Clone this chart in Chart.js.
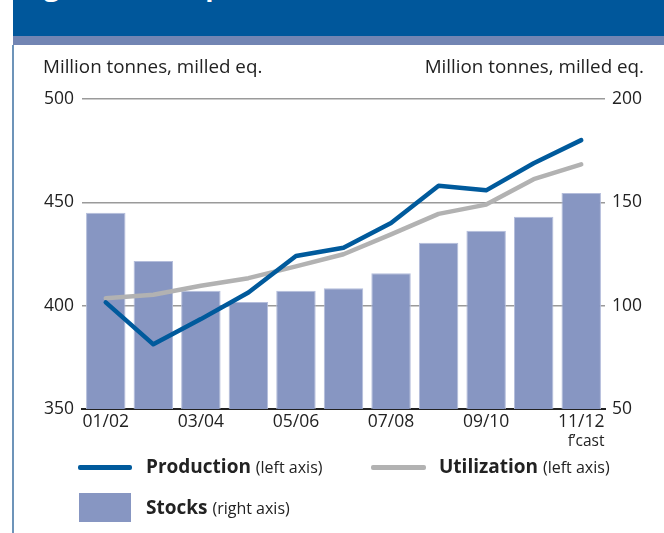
<!DOCTYPE html>
<html>
<head>
<meta charset="utf-8">
<script src="https://cdn.jsdelivr.net/npm/chart.js@4/dist/chart.umd.min.js"></script>
<style>
  html, body { margin: 0; padding: 0; background: #fff; }
  body { width: 664px; height: 533px; position: relative; overflow: hidden; font-family: "Open Sans", "DejaVu Sans", sans-serif; color: #222; }
  #banner { position: absolute; left: 13px; top: 0; width: 651px; height: 36px; background: #00579b; overflow: hidden; }
  #banner span { position: absolute; left: 8px; top: -27px; line-height: 26px; font-size: 27px; font-weight: bold; color: #fff; white-space: nowrap; }
  #strip { position: absolute; left: 13px; top: 36px; width: 651px; height: 9px; background: #7285b3; }
  #leftborder { position: absolute; left: 12px; top: 45px; width: 2px; height: 488px; background: #6d94b9; }
  #chartwrap { position: absolute; left: 0; top: 0; width: 664px; height: 533px; }
  .unit { position: absolute; top: 55px; font-size: 18.8px; line-height: 22px; white-space: nowrap; }
  .leg { position: absolute; white-space: nowrap; font-size: 19px; line-height: 24px; }
  .leg b { font-weight: bold; }
  .leg small { font-size: 16px; }
  .swline { position: absolute; height: 5px; border-radius: 2px; }
  .swrect { position: absolute; }
</style>
</head>
<body>
<div id="banner"><span>Figure 3: Rice production, utilization and stocks</span></div>
<div id="strip"></div>
<div id="leftborder"></div>
<div id="chartwrap"><canvas id="c" width="664" height="533"></canvas></div>
<div class="unit" style="left:43px;">Million tonnes, milled eq.</div>
<div class="unit" style="right:20px;">Million tonnes, milled eq.</div>

<div class="swline" style="left:78px; top:465px; width:54px; background:#005a9c;"></div>
<div class="leg" style="left:146px; top:454px;"><b>Production</b> <small>(left axis)</small></div>
<div class="swline" style="left:371px; top:465px; width:55px; background:#b2b2b2;"></div>
<div class="leg" style="left:439px; top:454px;"><b>Utilization</b> <small>(left axis)</small></div>
<div class="swrect" style="left:79px; top:493px; width:52px; height:29px; background:#8796c2;"></div>
<div class="leg" style="left:146px; top:495px;"><b>Stocks</b> <small>(right axis)</small></div>

<script>
const categories = ['01/02','02/03','03/04','04/05','05/06','06/07','07/08','08/09','09/10','10/11','11/12'];
const production = [401.6, 381.3, 393.5, 406.4, 424.0, 428.0, 440.0, 458.0, 455.8, 468.9, 480.1];
const utilization = [403.6, 405.3, 409.6, 413.3, 419.0, 424.9, 434.5, 444.4, 448.9, 461.2, 468.4];
const stocks = [144.9, 121.6, 107.2, 101.8, 107.2, 108.4, 115.7, 130.5, 136.3, 143.0, 154.5];
const leftTicks = [350, 400, 450, 500];
const rightTicks = [50, 100, 150, 200];
const forecastNote = 'f\u2019cast';

const FONT = '"Open Sans", "DejaVu Sans", sans-serif';
const TICK_SIZE = 17.5;

const fcastPlugin = {
  id: 'fcast',
  afterDraw(chart) {
    const x = chart.scales.x;
    const ctx = chart.ctx;
    const last = categories.length - 1;
    const px = x.getPixelForValue(last);
    ctx.save();
    ctx.font = TICK_SIZE + 'px ' + FONT;
    const w = ctx.measureText(categories[last]).width;
    ctx.font = '15.5px ' + FONT;
    ctx.fillStyle = '#222';
    ctx.textAlign = 'right';
    ctx.textBaseline = 'alphabetic';
    ctx.fillText(forecastNote, px + w / 2, x.top + 37);
    ctx.restore();
  }
};

new Chart(document.getElementById('c'), {
  data: {
    labels: categories,
    datasets: [
      {
        type: 'line', label: 'Production', data: production, yAxisID: 'y',
        borderColor: '#005a9c', borderWidth: 4.5, pointRadius: 0, tension: 0, order: 1,
        borderJoinStyle: 'round', borderCapStyle: 'round'
      },
      {
        type: 'line', label: 'Utilization', data: utilization, yAxisID: 'y',
        borderColor: '#b2b2b2', borderWidth: 4.5, pointRadius: 0, tension: 0, order: 2,
        borderJoinStyle: 'round', borderCapStyle: 'round'
      },
      {
        type: 'bar', label: 'Stocks', data: stocks, yAxisID: 'y2',
        backgroundColor: '#8796c2', borderColor: '#b4bddb', borderWidth: 1,
        categoryPercentage: 1, barPercentage: 0.83, order: 3
      }
    ]
  },
  options: {
    responsive: false,
    animation: false,
    devicePixelRatio: 1,
    layout: { padding: { top: 99, bottom: 94, left: 0, right: 0 } },
    plugins: { legend: { display: false }, tooltip: { enabled: false } },
    scales: {
      x: {
        offset: true,
        z: 1,
        grid: { display: false, drawTicks: false },
        border: { display: true, color: '#222', width: 2 },
        ticks: {
          autoSkip: false, maxRotation: 0, padding: 3, color: '#222',
          font: { family: FONT, size: TICK_SIZE },
          callback: (v, i) => (i % 2 === 0 ? categories[i] : '')
        },
        afterFit: (s) => { s.height = 30; }
      },
      y: {
        position: 'left',
        min: leftTicks[0], max: leftTicks[leftTicks.length - 1],
        afterBuildTicks: (s) => { s.ticks = leftTicks.map(v => ({ value: v })); },
        grid: { color: (c) => (c.tick && c.tick.value === leftTicks[0] ? 'rgba(0,0,0,0)' : '#9a9a9a'), lineWidth: 1.5, drawTicks: false },
        border: { display: false },
        ticks: { padding: 8, color: '#222', font: { family: FONT, size: TICK_SIZE } },
        afterFit: (s) => { s.width = 82; }
      },
      y2: {
        position: 'right',
        min: rightTicks[0], max: rightTicks[rightTicks.length - 1],
        afterBuildTicks: (s) => { s.ticks = rightTicks.map(v => ({ value: v })); },
        grid: { display: false, drawTicks: false },
        border: { display: false },
        ticks: { padding: 7, color: '#222', font: { family: FONT, size: TICK_SIZE } },
        afterFit: (s) => { s.width = 59; }
      }
    }
  },
  plugins: [fcastPlugin]
});
</script>
</body>
</html>
